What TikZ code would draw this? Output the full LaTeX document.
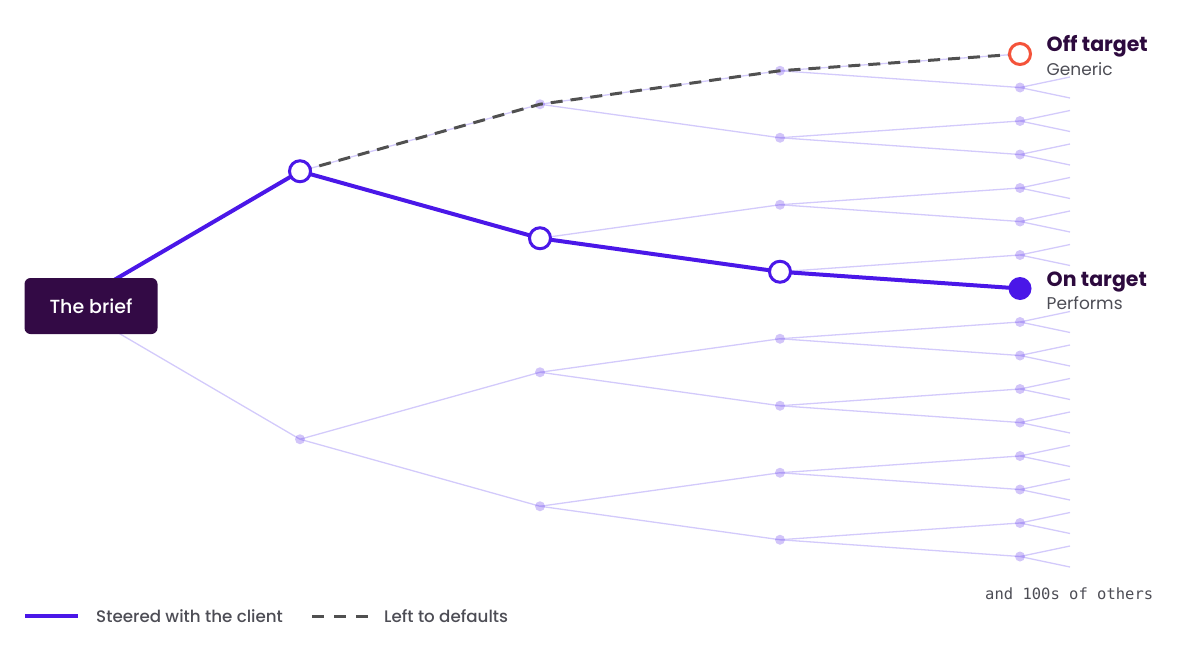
\documentclass[tikz,border=0pt]{standalone}
\usepackage{fontspec}
\setmainfont{Poppins}
\newfontfamily\medfont{Poppins Medium}
\newfontfamily\monofont{DejaVu Sans Mono}
\definecolor{briefc}{HTML}{330A45}
\definecolor{steer}{HTML}{4A17E8}
\definecolor{faint}{HTML}{D3CAFB}
\definecolor{offc}{HTML}{F4533A}
\definecolor{dashc}{HTML}{505050}
\definecolor{titlec}{HTML}{2D0A3E}
\definecolor{subc}{HTML}{4D4D55}

\begin{document}
\begin{tikzpicture}[x=1pt,y=-1pt,
    twig/.style={faint,line width=1.3pt},
    leafdot/.style={circle,fill=steer,opacity=0.25,inner sep=0pt,minimum size=10pt},
    steered/.style={steer,line width=4pt,line cap=round,line join=round},
    defaulted/.style={dashc,line width=3pt,dash pattern=on 12pt off 8pt},
    opencirc/.style={circle,draw=steer,line width=3pt,fill=white,inner sep=0pt,minimum size=21pt},
    offcirc/.style={circle,draw=offc,line width=3pt,fill=white,inner sep=0pt,minimum size=21pt},
    oncirc/.style={circle,fill=steer,inner sep=0pt,minimum size=23pt},
    briefbox/.style={fill=briefc,text=white,rounded corners=6pt,minimum width=133pt,minimum height=56pt,font=\medfont\fontsize{19}{23}\selectfont},
    title/.style={anchor=base west,text=titlec,inner sep=0pt,font=\fontsize{20.5}{24}\selectfont\bfseries},
    sub/.style={anchor=base west,text=subc,inner sep=0pt,font=\fontsize{17}{20}\selectfont},
    legend/.style={anchor=base west,text=subc,inner sep=0pt,font=\medfont\fontsize{16.7}{20}\selectfont}]
    \useasboundingbox (0,0) rectangle (1200,648);
    \coordinate (0) at (71,305.25);
    \coordinate (1-1) at (300,171.25);
    \coordinate (1-2) at (300,439.25);
    \foreach \i in {1,...,4} \coordinate (2-\i) at (540,{104.25+(\i-1)*134});
    \foreach \i in {1,...,8} \coordinate (3-\i) at (780,{70.75+(\i-1)*67});
    \foreach \i in {1,...,16} \coordinate (4-\i) at (1020,{54+(\i-1)*33.5});
    \foreach \j in {1,2} \draw[twig] (0) -- (1-\j);
    \foreach \j [evaluate=\j as \p using {int(ceil(\j/2))}] in {1,...,4} \draw[twig] (1-\p) -- (2-\j);
    \foreach \j [evaluate=\j as \p using {int(ceil(\j/2))}] in {1,...,8} \draw[twig] (2-\p) -- (3-\j);
    \foreach \j [evaluate=\j as \p using {int(ceil(\j/2))}] in {1,...,16} \draw[twig] (3-\p) -- (4-\j);
    \foreach \i in {2,3,4,5,6,7,9,10,11,12,13,14,15,16}
        \draw[twig] (4-\i) -- ++(50,-10.5) (4-\i) -- ++(50,10.5);
    \node[leafdot] (d1-2) at (1-2) {};
    \foreach \i in {1,...,4} \node[leafdot] (d2-\i) at (2-\i) {};
    \foreach \i in {1,...,8} \node[leafdot] (d3-\i) at (3-\i) {};
    \foreach \i in {2,3,4,5,6,7,9,10,11,12,13,14,15,16} \node[leafdot] (d4-\i) at (4-\i) {};
    \draw[defaulted] (1-1) -- (2-1) -- (3-1) -- (4-1);
    \draw[steered] (0) -- (1-1) -- (2-2) -- (3-4) -- (4-8);
    \node[opencirc] (c1) at (1-1) {};
    \node[opencirc] (c2) at (2-2) {};
    \node[opencirc] (c3) at (3-4) {};
    \node[offcirc] (off) at (4-1) {};
    \node[oncirc] (on) at (4-8) {};
    \node[briefbox] (brief) at (91,306) {The brief};
    \node[title] (offtitle) at (1046.5,51.5) {Off target};
    \node[sub] (offsub) at (1046.5,75) {Generic};
    \node[title] (ontitle) at (1046.5,286) {On target};
    \node[sub] (onsub) at (1046.5,309.5) {Performs};
    \node[anchor=base west,inner sep=0pt,text=subc,font=\monofont\fontsize{15.5}{18}\selectfont] (others) at (985,599.5) {and 100s of others};
    \coordinate (s1) at (25,616);
    \coordinate (s2) at (78,616);
    \draw[steer,line width=4pt] (s1) -- (s2);
    \node[legend] (steerlab) at (96,622) {Steered with the client};
    \coordinate (t1) at (312,616);
    \coordinate (t2) at (368,616);
    \draw[dashc,line width=3pt,dash pattern=on 12pt off 10pt] (t1) -- (t2);
    \node[legend] (deflab) at (384,622) {Left to defaults};
\end{tikzpicture}
\end{document}
